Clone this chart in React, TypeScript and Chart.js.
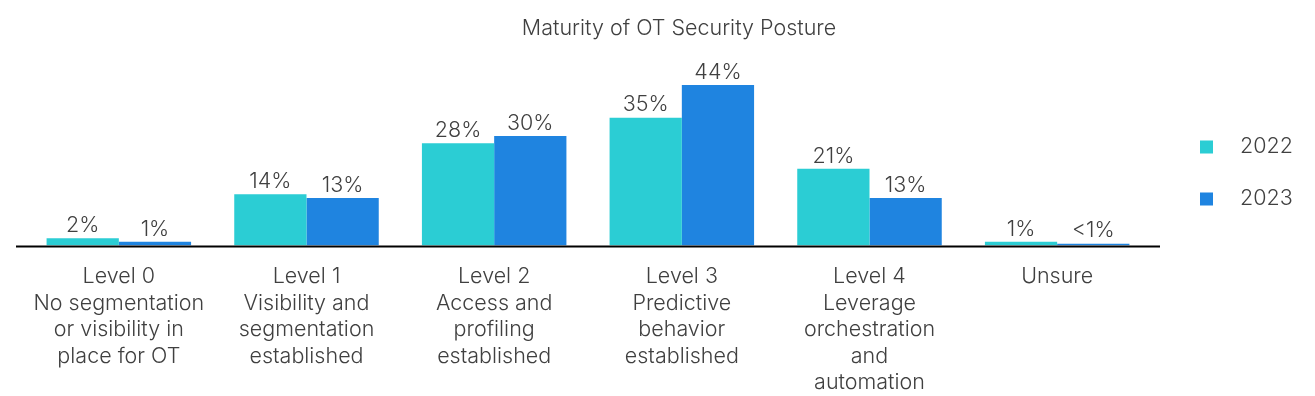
import React, { useEffect, useRef } from "react";
import { Chart, registerables } from "chart.js";

Chart.register(...registerables);

const categories: string[][] = [
  ["Level 0", "No segmentation", "or visibility in", "place for OT"],
  ["Level 1", "Visibility and", "segmentation", "established"],
  ["Level 2", "Access and", "profiling", "established"],
  ["Level 3", "Predictive", "behavior", "established"],
  ["Level 4", "Leverage", "orchestration", "and", "automation"],
  ["Unsure"],
];
const seriesNames = ["2022", "2023"];
const values2022 = [2, 14, 28, 35, 21, 1];
const values2023 = [1, 13, 30, 44, 13, 0.5];
const labels2022 = ["2%", "14%", "28%", "35%", "21%", "1%"];
const labels2023 = ["1%", "13%", "30%", "44%", "13%", "<1%"];
const colors = ["#2BCDD4", "#1F84E0"];
const titleText = "Maturity of OT Security Posture";

const FONT = "Inter, 'Noto Sans', sans-serif";
const TEXT = "#404040";

export default function App() {
  const ref = useRef<HTMLCanvasElement | null>(null);
  useEffect(() => {
    document.body.style.margin = "0";
    const labelSets = [labels2022, labels2023];
    const custom = {
      id: "custom",
      afterDatasetsDraw(chart: any) {
        const ctx = chart.ctx;
        const ca = chart.chartArea;
        ctx.save();
        // data labels
        ctx.font = `300 21.5px ${FONT}`;
        ctx.fillStyle = TEXT;
        ctx.textAlign = "center";
        ctx.textBaseline = "bottom";
        chart.data.datasets.forEach((ds: any, di: number) => {
          const meta = chart.getDatasetMeta(di);
          meta.data.forEach((bar: any, i: number) => {
            ctx.fillText(labelSets[di][i], bar.x, bar.y - 2);
          });
        });
        // baseline
        const y0 = chart.scales.y.getPixelForValue(0);
        ctx.strokeStyle = "#000";
        ctx.lineWidth = 2;
        ctx.beginPath();
        ctx.moveTo(ca.left - 9, y0 + 1);
        ctx.lineTo(ca.right + 9, y0 + 1);
        ctx.stroke();
        // title
        ctx.font = `300 21.5px ${FONT}`;
        ctx.textBaseline = "middle";
        ctx.fillText(titleText, 679, 29);
        // legend
        chart.data.datasets.forEach((ds: any, di: number) => {
          const cy = 147 + di * 52;
          ctx.fillStyle = ds.backgroundColor;
          ctx.fillRect(1200, cy - 6.5, 13, 13);
          ctx.fillStyle = TEXT;
          ctx.textAlign = "left";
          ctx.fillText(ds.label, 1240, cy);
        });
        ctx.restore();
      },
    };
    const chart = new Chart(ref.current!, {
      type: "bar",
      data: {
        labels: categories,
        datasets: [
          { label: seriesNames[0], data: values2022, backgroundColor: colors[0] },
          { label: seriesNames[1], data: values2023, backgroundColor: colors[1] },
        ],
      },
      options: {
        animation: false,
        responsive: false,
        layout: { padding: { left: 25, right: 164, top: 63, bottom: -10 } },
        datasets: { bar: { categoryPercentage: 0.77, barPercentage: 1 } },
        plugins: {
          legend: { display: false },
          title: { display: false },
          tooltip: { enabled: false },
        },
        scales: {
          x: {
            grid: { display: false },
            border: { display: false },
            ticks: {
              autoSkip: false,
              maxRotation: 0,
              padding: 10,
              color: TEXT,
              font: { family: FONT, size: 21.5, weight: "300", lineHeight: 1.233 },
            },
          },
          y: { display: false, min: 0, max: 50 },
        },
      },
      plugins: [custom],
    });
    return () => chart.destroy();
  }, []);
  return <canvas ref={ref} width={1315} height={396} style={{ display: "block" }} />;
}
